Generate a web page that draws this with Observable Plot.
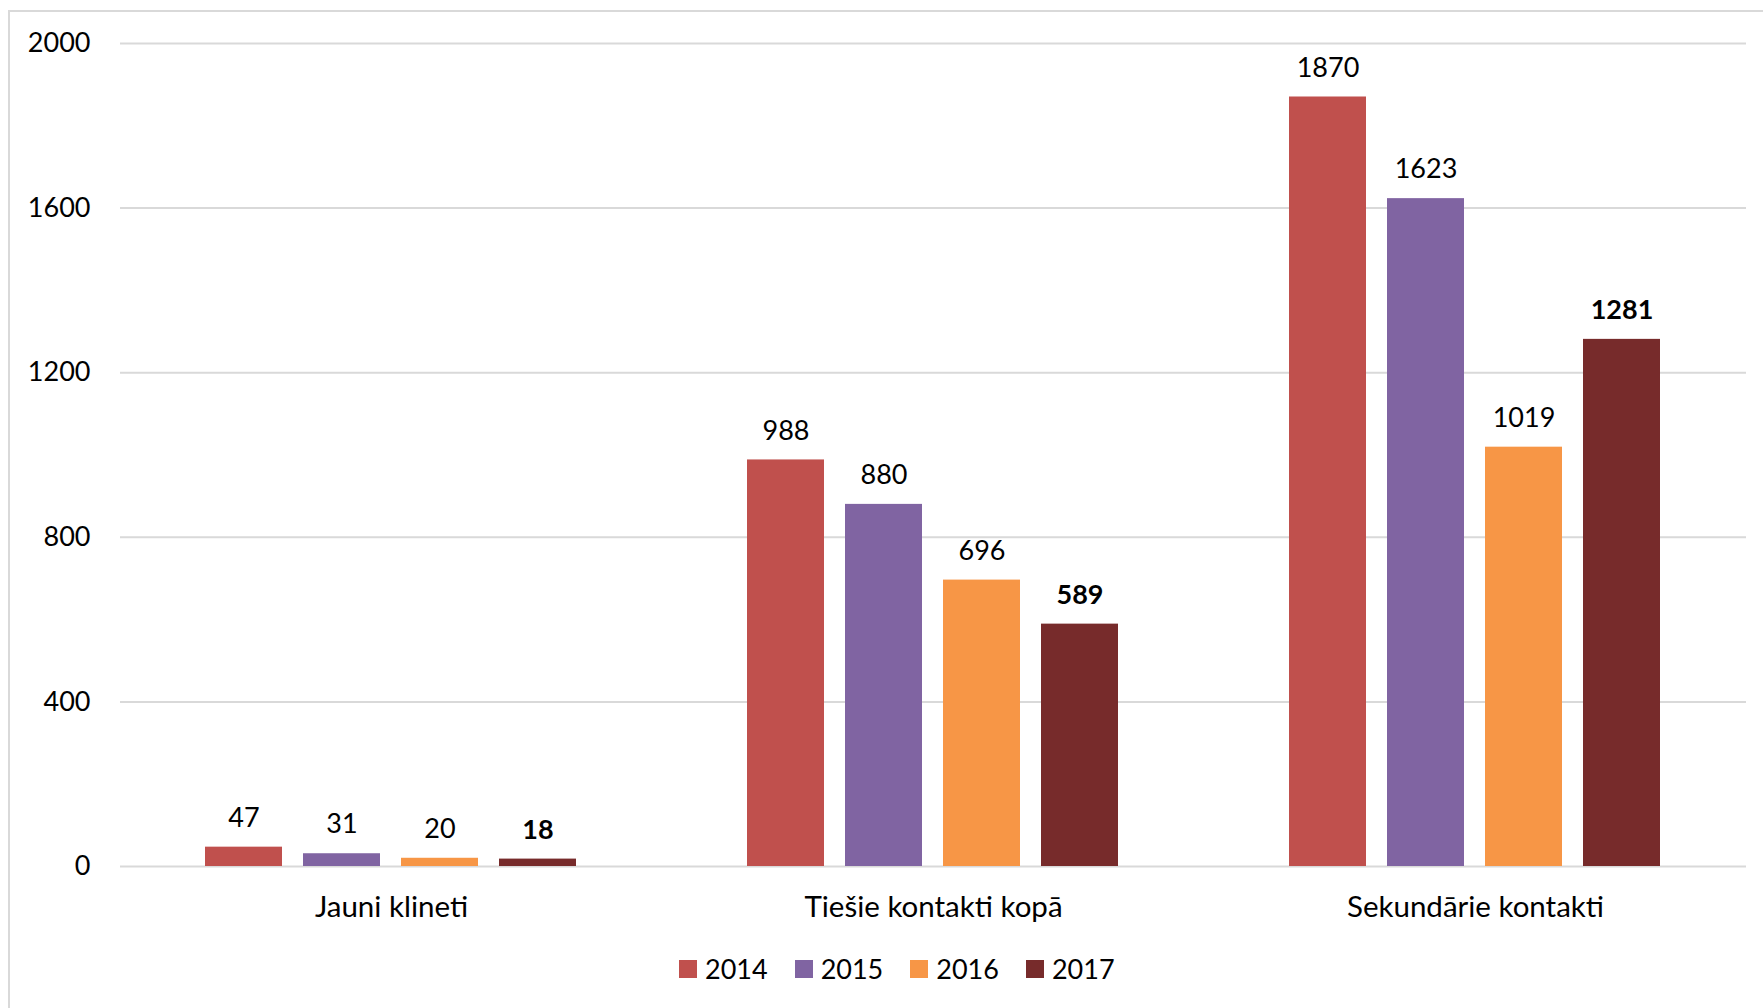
<!DOCTYPE html>
<html>
<head>
<meta charset="utf-8">
<script src="https://cdn.jsdelivr.net/npm/d3@7"></script>
<script src="https://cdn.jsdelivr.net/npm/@observablehq/plot@0.6"></script>
<style>
  html, body { margin: 0; padding: 0; background: #fff; overflow: hidden; width: 1763px; height: 1008px; }
  #frame { position: absolute; left: 8px; top: 10px; width: 1800px; height: 1100px;
           border-left: 2px solid #d9d9d9; border-top: 2px solid #d9d9d9; }
  #chart { position: absolute; left: 0; top: 0; }
  #legend { position: absolute; left: 679px; top: 952px; font-family: Lato, sans-serif; font-size: 27px; color: #000; }
  #legend .lg-swatch > svg { margin-right: 8px !important; }
  #legend .lg-swatch { margin-right: 27px !important; }
</style>
</head>
<body>
<div id="frame"></div>
<div id="chart"></div>
<div id="legend"></div>
<script>
const categories = ["Jauni klineti", "Tiešie kontakti kopā", "Sekundārie kontakti"];
const years = ["2014", "2015", "2016", "2017"];
const v2014 = [47, 988, 1870];
const v2015 = [31, 880, 1623];
const v2016 = [20, 696, 1019];
const v2017 = [18, 589, 1281];
const yTicks = [0, 400, 800, 1200, 1600, 2000];
const colors = ["#c0504d", "#8064a2", "#f79646", "#772b2b"];

const series = [v2014, v2015, v2016, v2017];
const data = [];
categories.forEach((c, i) => {
  years.forEach((y, j) => data.push({category: c, year: y, value: series[j][i]}));
});

const chart = Plot.plot({
  width: 1763,
  height: 930,
  marginLeft: 120,
  marginRight: 17,
  marginTop: 43,
  marginBottom: 64,
  style: {fontFamily: "Lato, sans-serif", fontSize: "27px", color: "#000", background: "transparent"},
  fx: {domain: categories, padding: 0, label: null},
  x: {domain: years, paddingInner: 0.213, paddingOuter: 0.86, axis: null},
  y: {domain: [0, 2000], label: null},
  color: {domain: years, range: colors},
  marks: [
    Plot.ruleY(yTicks, {stroke: "#d9d9d9", strokeWidth: 2}),
    Plot.axisY({ticks: yTicks, tickFormat: d => String(d), tickSize: 0, tickPadding: 30, label: null, fontSize: 27}),
    Plot.axisFx({anchor: "bottom", tickSize: 0, tickPadding: 30, label: null, fontSize: 29.5}),
    Plot.barY(data, {fx: "category", x: "year", y: "value", fill: "year"}),
    Plot.text(data.filter(d => d.year !== "2017"), {fx: "category", x: "year", y: "value", text: d => String(d.value), dy: -29, fill: "#000", fontSize: 27}),
    Plot.text(data.filter(d => d.year === "2017"), {fx: "category", x: "year", y: "value", text: d => String(d.value), dy: -29, fill: "#000", fontSize: 27, fontWeight: "bold"})
  ]
});
document.getElementById("chart").appendChild(chart);

const legend = Plot.legend({
  color: {domain: years, range: colors},
  legend: "swatches",
  swatchSize: 18,
  className: "lg",
  style: {fontFamily: "Lato, sans-serif", fontSize: "27px", color: "#000"}
});
document.getElementById("legend").appendChild(legend);
</script>
</body>
</html>
